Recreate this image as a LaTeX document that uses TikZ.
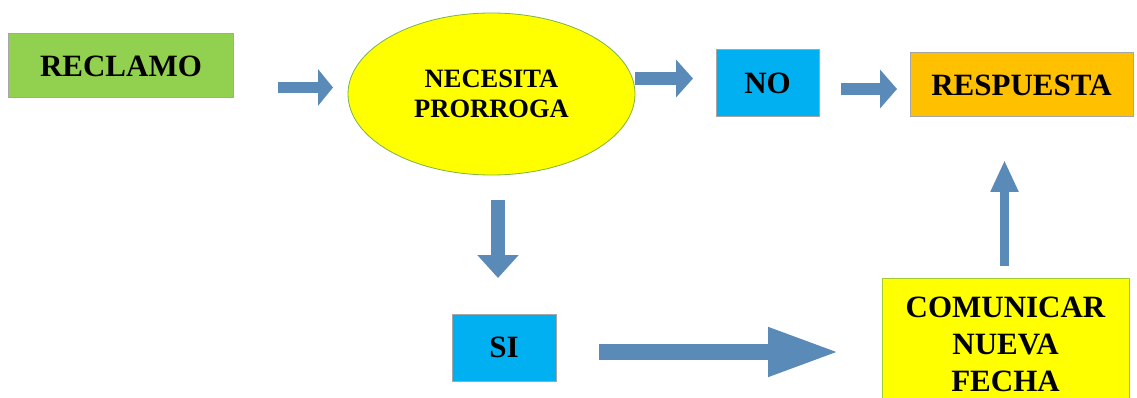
\documentclass[tikz,border=0pt]{standalone}
\usepackage{fontspec}
\setmainfont{Liberation Serif}
\usetikzlibrary{arrows.meta,shapes.geometric}
\definecolor{cgreen}{HTML}{92D050}
\definecolor{cyellow}{HTML}{FFFF00}
\definecolor{cblue}{HTML}{00B0F0}
\definecolor{corange}{HTML}{FFC000}
\definecolor{carrow}{HTML}{5A8AB8}
\definecolor{cgrayb}{HTML}{A6A6A6}
\definecolor{cgreenb}{HTML}{7DB347}
\tikzset{
  box/.style={draw=cgrayb, line width=1pt, inner sep=0pt, font=\fontsize{31}{37}\selectfont\bfseries, align=center},
  blockarrow/.style={draw=carrow, line width=#1},
}
\begin{document}
\begin{tikzpicture}[x=1pt,y=-1pt]
\useasboundingbox (0,0) rectangle (1137,398);
\clip (0,0) rectangle (1137,398);
% nodes
\node[box, fill=cgreen, minimum width=225pt, minimum height=64pt] (rec) at (121,66) {RECLAMO};
\node[ellipse, draw=cgreenb, line width=0.8pt, fill=cyellow, minimum width=287pt, minimum height=162pt, inner sep=0pt,
      font=\fontsize{26.5}{30}\selectfont\bfseries, align=center] (nec) at (491.5,94) {NECESITA\\PRORROGA};
\node[box, fill=cblue, minimum width=103pt, minimum height=67pt] (no) at (767.5,83.5) {NO};
\node[box, fill=corange, minimum width=223pt, minimum height=64pt] (resp) at (1021.5,85) {RESPUESTA};
\node[box, fill=cblue, minimum width=104pt, minimum height=67pt] (si) at (504,347.5) {SI};
\node[box, draw=cgreenb!70!cyellow, fill=cyellow, minimum width=247pt, anchor=north, inner ysep=18pt] (com) at (1005.5,278) {COMUNICAR\\NUEVA\\FECHA};
% arrow end points
\coordinate (a1s) at (278,87.5);  \coordinate (a1e) at (333,87.5);
\coordinate (a2s) at (635,78.5);  \coordinate (a2e) at (693,78.5);
\coordinate (a3s) at (841,89);    \coordinate (a3e) at (897,89);
\coordinate (a4s) at (498,200);   \coordinate (a4e) at (498,278);
\coordinate (a5s) at (599,352);   \coordinate (a5e) at (840,352);
\coordinate (a6s) at (1004.5,266); \coordinate (a6e) at (1004.5,160);
% arrows
\draw[blockarrow=11pt, -{Triangle[length=15pt,width=36pt]}] (a1s) -- (a1e);
\draw[blockarrow=13pt, -{Triangle[length=17pt,width=37pt]}] (a2s) -- (a2e);
\draw[blockarrow=12pt, -{Triangle[length=17pt,width=38pt]}] (a3s) -- (a3e);
\draw[blockarrow=14pt, -{Triangle[length=23pt,width=40pt]}] (a4s) -- (a4e);
\draw[blockarrow=16pt, -{Triangle[length=72pt,width=45pt]}] (a5s) -- (a5e);
\draw[blockarrow=9pt, -{Triangle[length=32pt,width=26pt]}] (a6s) -- (a6e);
\end{tikzpicture}
\end{document}
